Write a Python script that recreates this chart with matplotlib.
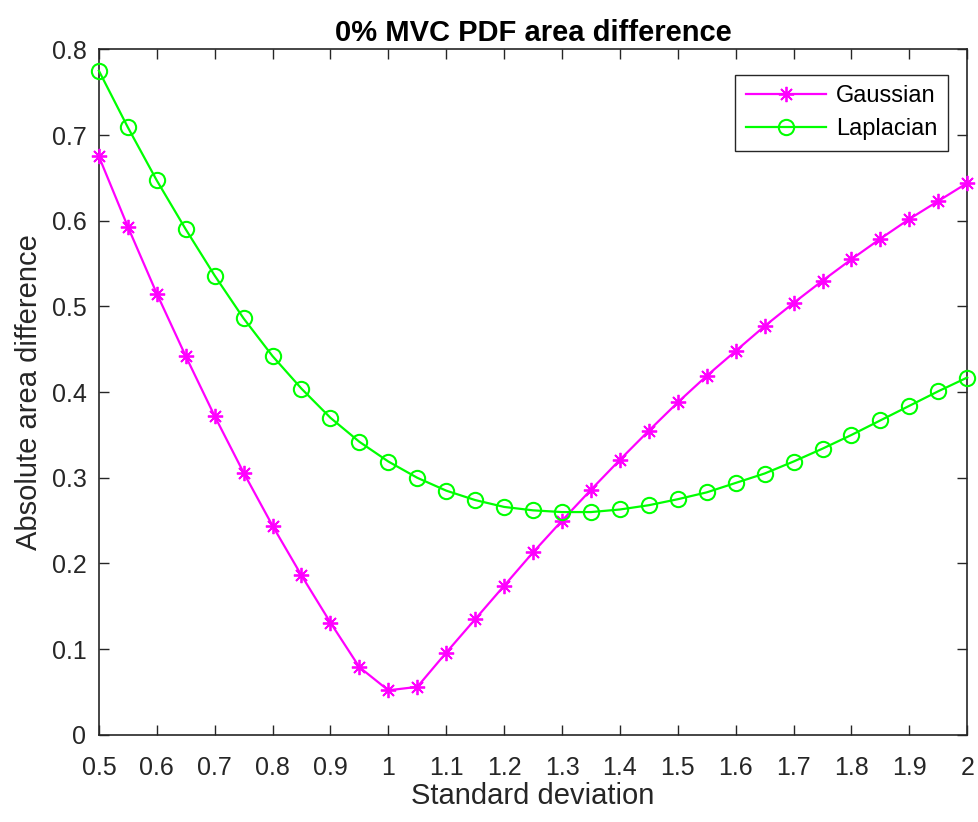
import matplotlib
matplotlib.use("Agg")
import matplotlib.pyplot as plt

plt.rcParams['font.family'] = ['Liberation Sans', 'DejaVu Sans']

std_dev = [0.5, 0.55, 0.6, 0.65, 0.7, 0.75, 0.8, 0.85, 0.9, 0.95, 1.0, 1.05, 1.1, 1.15, 1.2, 1.25,
           1.3, 1.35, 1.4, 1.45, 1.5, 1.55, 1.6, 1.65, 1.7, 1.75, 1.8, 1.85, 1.9, 1.95, 2.0]
gaussian = [0.675, 0.593, 0.515, 0.442, 0.372, 0.306, 0.244, 0.186, 0.131, 0.079, 0.052, 0.056,
            0.096, 0.135, 0.174, 0.213, 0.250, 0.286, 0.321, 0.355, 0.388, 0.419, 0.448, 0.477,
            0.504, 0.530, 0.555, 0.579, 0.602, 0.623, 0.644]
laplacian = [0.775, 0.709, 0.647, 0.590, 0.536, 0.486, 0.442, 0.404, 0.370, 0.342, 0.319, 0.300,
             0.285, 0.274, 0.266, 0.262, 0.260, 0.260, 0.263, 0.268, 0.275, 0.283, 0.294, 0.305,
             0.319, 0.334, 0.350, 0.367, 0.384, 0.401, 0.417]
x_ticks = [0.5, 0.6, 0.7, 0.8, 0.9, 1.0, 1.1, 1.2, 1.3, 1.4, 1.5, 1.6, 1.7, 1.8, 1.9, 2.0]
x_tick_labels = ['0.5', '0.6', '0.7', '0.8', '0.9', '1', '1.1', '1.2', '1.3', '1.4', '1.5',
                 '1.6', '1.7', '1.8', '1.9', '2']
y_ticks = [0, 0.1, 0.2, 0.3, 0.4, 0.5, 0.6, 0.7, 0.8]
y_tick_labels = ['0', '0.1', '0.2', '0.3', '0.4', '0.5', '0.6', '0.7', '0.8']

fig = plt.figure(figsize=(9.79, 8.22), dpi=100)
ax = fig.add_axes([0.101, 0.106, 0.887, 0.834])

ax.plot(std_dev, gaussian, color='#FF00FF', lw=1.6, marker=(8, 2, 0), ms=11, mew=1.3,
        label='Gaussian', clip_on=False, zorder=3)
ax.plot(std_dev, laplacian, color='#00FF00', lw=1.6, marker='o', ms=11, mfc='none', mew=1.5,
        label='Laplacian', clip_on=False, zorder=3)

ax.set_xlim(0.5, 2.0)
ax.set_ylim(0, 0.8)
ax.set_xticks(x_ticks)
ax.set_xticklabels(x_tick_labels)
ax.set_yticks(y_ticks)
ax.set_yticklabels(y_tick_labels)
ax.tick_params(axis='both', which='both', direction='in', top=True, right=True,
               labelsize=18, length=7, width=1.0, color='#262626', labelcolor='#262626')
ax.tick_params(axis='x', pad=15)
ax.tick_params(axis='y', pad=9)
for s in ax.spines.values():
    s.set_linewidth(1.2)
    s.set_color('#262626')

ax.set_xlabel('Standard deviation', fontsize=21, color='#262626', labelpad=2)
ax.set_ylabel('Absolute area difference', fontsize=21, color='#262626', labelpad=6)
ax.set_title('0% MVC PDF area difference', fontsize=21, fontweight='bold', pad=6)

leg = ax.legend(loc='upper right', bbox_to_anchor=(0.9775, 0.963), fontsize=17, fancybox=False,
                edgecolor='#262626', framealpha=1, handlelength=3.4, borderpad=0.45,
                labelspacing=0.45, handletextpad=0.4, borderaxespad=0)
leg.get_frame().set_linewidth(1.0)

fig.savefig('out.png', dpi=100)
